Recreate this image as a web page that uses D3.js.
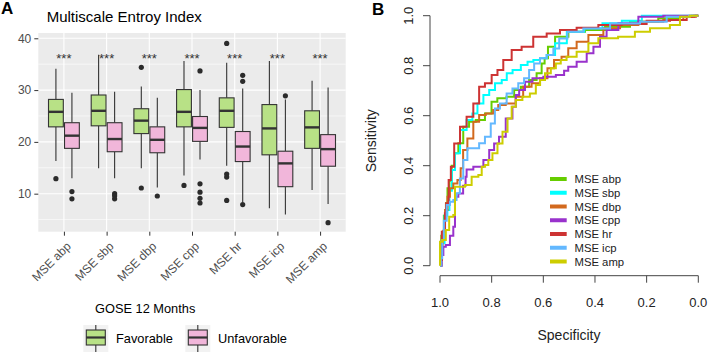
<!DOCTYPE html>
<html>
<head>
<meta charset="utf-8">
<script src="https://cdn.jsdelivr.net/npm/d3@7"></script>
<style>
  body { margin: 0; background: #fff; }
  svg { display: block; font-family: Arial, "Liberation Sans", sans-serif; }
</style>
</head>
<body>
<div id="chart"></div>
<script>
// ---- panel A data (boxplot stats: lower whisker, Q1, median, Q3, upper whisker)
const categories = ['MSE abp', 'MSE sbp', 'MSE dbp', 'MSE cpp', 'MSE hr', 'MSE icp', 'MSE amp'];
const groups = ['Favorable', 'Unfavorable'];
const favStats = [
    [16.3, 22.9, 25.8, 28.2, 34.1],
    [14.9, 23.1, 26.0, 29.05, 36.8],
    [14.9, 21.6, 24.1, 26.4, 30.7],
    [13.5, 22.9, 25.8, 30.1, 35.6],
    [15.4, 22.8, 26.0, 28.5, 35.3],
    [7.2, 17.5, 22.6, 27.2, 35.6],
    [10.7, 18.75, 22.8, 26.0, 31.8]
];
const unfStats = [
    [13.0, 18.75, 21.2, 23.7, 29.5],
    [13.0, 18.1, 20.55, 23.7, 29.7],
    [11.2, 17.9, 20.4, 22.9, 28.5],
    [16.6, 20.1, 22.7, 24.9, 30.0],
    [8.4, 16.2, 19.1, 22.0, 30.3],
    [6.0, 11.35, 15.85, 18.2, 28.2],
    [8.0, 15.3, 18.6, 21.4, 30.5]
];
const favOutliers = [[12.9], [], [34.4, 11.1], [11.6], [39.0, 13.8, 13.2, 8.7], [], []];
const unfOutliers = [[10.4, 9.0], [10.0, 9.6, 9.0], [9.55], [33.7, 11.9, 10.3, 9.1, 8.2], [32.85, 31.7, 7.9], [28.9], [4.4]];
const sigLabels = ['***', '***', '***', '***', '***', '***', '***'];
const yTicksA = [10, 20, 30, 40];

// ---- panel B data (ROC curves: [specificity, sensitivity])
const rocNames = ['MSE abp', 'MSE sbp', 'MSE dbp', 'MSE cpp', 'MSE hr', 'MSE icp', 'MSE amp'];
const rocColors = ['#66CD00', '#00FFFF', '#D2691E', '#9932CC', '#CD3333', '#63B8FF', '#CDCD00'];
const rocAbp = [[1,0],[0.99,0.12],[0.98,0.2],[0.974,0.25],[0.968,0.31],[0.959,0.34],[0.95,0.4],[0.935,0.45],[0.923,0.49],
    [0.897,0.556],[0.878,0.576],[0.845,0.583],[0.807,0.609],[0.794,0.656],[0.762,0.67],[0.723,0.676],[0.703,0.703],
    [0.671,0.716],[0.639,0.743],[0.613,0.77],[0.6,0.809],[0.59,0.83],[0.574,0.876],[0.535,0.916],[0.471,0.936],
    [0.406,0.943],[0.316,0.956],[0.213,0.976],[0.097,0.99],[0.05,0.996],[0,1]];
const rocSbp = [[1,0],[0.99,0.09],[0.975,0.2],[0.968,0.223],[0.959,0.3],[0.949,0.383],[0.935,0.45],[0.91,0.543],
    [0.884,0.583],[0.865,0.609],[0.845,0.649],[0.819,0.683],[0.8,0.703],[0.774,0.73],[0.748,0.743],[0.735,0.77],
    [0.703,0.783],[0.671,0.803],[0.651,0.816],[0.626,0.823],[0.6,0.83],[0.574,0.843],[0.535,0.89],[0.483,0.936],
    [0.4,0.95],[0.342,0.97],[0.25,0.98],[0.187,1],[0,1]];
const rocDbp = [[1,0],[0.993,0.07],[0.987,0.136],[0.974,0.223],[0.968,0.276],[0.955,0.31],[0.942,0.329],[0.923,0.343],
    [0.917,0.39],[0.904,0.463],[0.884,0.509],[0.858,0.576],[0.839,0.603],[0.807,0.609],[0.781,0.623],[0.768,0.643],
    [0.723,0.649],[0.691,0.676],[0.665,0.716],[0.626,0.73],[0.6,0.75],[0.568,0.79],[0.549,0.823],[0.51,0.836],
    [0.497,0.87],[0.445,0.896],[0.406,0.923],[0.329,0.95],[0.277,0.963],[0.187,0.976],[0.084,0.983],[0.032,0.996],[0,1]];
const rocCpp = [[1,0],[0.987,0.043],[0.987,0.076],[0.968,0.083],[0.955,0.12],[0.942,0.156],[0.942,0.276],[0.916,0.289],
    [0.905,0.32],[0.897,0.356],[0.897,0.385],[0.845,0.396],[0.819,0.423],[0.8,0.463],[0.781,0.489],[0.762,0.516],
    [0.729,0.589],[0.71,0.636],[0.703,0.683],[0.684,0.703],[0.658,0.736],[0.626,0.75],[0.574,0.756],[0.529,0.763],
    [0.51,0.78],[0.497,0.796],[0.445,0.816],[0.419,0.85],[0.393,0.876],[0.368,0.916],[0.342,0.943],[0.277,0.97],
    [0.187,0.996],[0.084,1],[0,1]];
const rocHr = [[1,0],[0.993,0.023],[0.993,0.136],[0.981,0.14],[0.981,0.21],[0.972,0.25],[0.961,0.343],[0.955,0.396],
    [0.935,0.489],[0.91,0.556],[0.884,0.596],[0.858,0.649],[0.839,0.716],[0.813,0.73],[0.787,0.763],[0.768,0.783],
    [0.742,0.823],[0.703,0.863],[0.665,0.876],[0.613,0.916],[0.561,0.929],[0.51,0.943],[0.432,0.952],[0.342,0.963],
    [0.252,0.967],[0.148,0.98],[0.071,0.983],[0.019,0.996],[0,1]];
const rocIcp = [[1,0],[0.993,0.03],[0.99,0.103],[0.98,0.18],[0.968,0.243],[0.955,0.256],[0.942,0.263],[0.93,0.29],
    [0.916,0.349],[0.904,0.423],[0.884,0.47],[0.858,0.47],[0.839,0.49],[0.813,0.516],[0.794,0.569],[0.781,0.629],
    [0.755,0.649],[0.729,0.689],[0.71,0.709],[0.684,0.73],[0.665,0.75],[0.645,0.783],[0.626,0.809],[0.6,0.83],
    [0.574,0.843],[0.548,0.869],[0.529,0.909],[0.484,0.936],[0.406,0.949],[0.277,0.969],[0.174,0.976],[0.071,0.996],[0,1]];
const rocAmp = [[1,0],[1,0.096],[0.981,0.103],[0.974,0.143],[0.955,0.196],[0.942,0.203],[0.942,0.316],[0.91,0.316],
    [0.897,0.323],[0.858,0.356],[0.845,0.363],[0.832,0.396],[0.819,0.403],[0.807,0.423],[0.787,0.45],[0.768,0.489],
    [0.748,0.536],[0.729,0.589],[0.716,0.636],[0.697,0.663],[0.665,0.676],[0.639,0.689],[0.619,0.723],[0.606,0.743],
    [0.581,0.77],[0.561,0.79],[0.542,0.809],[0.523,0.823],[0.497,0.836],[0.445,0.856],[0.406,0.89],[0.368,0.91],
    [0.253,0.916],[0.238,0.936],[0.136,0.95],[0.084,0.963],[0.058,0.996],[0.006,1],[0,1]];
const rocCurves = [rocAbp, rocSbp, rocDbp, rocCpp, rocHr, rocIcp, rocAmp];
const rocTicks = [0, 0.2, 0.4, 0.6, 0.8, 1.0];

const groupColors = {Favorable: '#B8E186', Unfavorable: '#F1B6DA'};

function drawChart() {
    const svg = d3.select('#chart').append('svg')
        .attr('width', 708)
        .attr('height', 352);

    // ================= Panel A =================
    const pA = {left: 38.3, right: 345.7, top: 33, bottom: 231.7};

    const x = d3.scalePoint()
        .domain(categories)
        .range([pA.left, pA.right])
        .padding(0.6);
    const y = d3.scaleLinear()
        .domain([2.66, 41.02])
        .range([pA.bottom, pA.top]);
    const bw = x.step() * 0.375;

    svg.append('text')
        .attr('x', 1).attr('y', 14)
        .attr('font-size', 17).attr('font-weight', 'bold')
        .text('A');
    svg.append('text')
        .attr('x', 46.7).attr('y', 21.5)
        .attr('font-size', 15)
        .text('Multiscale Entroy Index');

    const gA = svg.append('g');
    gA.append('rect')
        .attr('x', pA.left).attr('y', pA.top)
        .attr('width', pA.right - pA.left).attr('height', pA.bottom - pA.top)
        .attr('fill', '#EBEBEB');

    // minor + major grid
    gA.selectAll('.minor')
        .data([5, 15, 25, 35])
        .enter().append('line')
        .attr('x1', pA.left).attr('x2', pA.right)
        .attr('y1', d => y(d)).attr('y2', d => y(d))
        .attr('stroke', '#fff').attr('stroke-width', 0.6);
    gA.selectAll('.major')
        .data(yTicksA)
        .enter().append('line')
        .attr('x1', pA.left).attr('x2', pA.right)
        .attr('y1', d => y(d)).attr('y2', d => y(d))
        .attr('stroke', '#fff').attr('stroke-width', 1.1);
    gA.selectAll('.vgrid')
        .data(categories)
        .enter().append('line')
        .attr('x1', d => x(d)).attr('x2', d => x(d))
        .attr('y1', pA.top).attr('y2', pA.bottom)
        .attr('stroke', '#fff').attr('stroke-width', 1.1);

    // y axis
    const yAxis = svg.append('g')
        .attr('transform', `translate(${pA.left},0)`)
        .call(d3.axisLeft(y).tickValues(yTicksA).tickSize(4).tickPadding(3));
    yAxis.select('.domain').remove();
    yAxis.selectAll('line').attr('stroke', '#333');
    yAxis.selectAll('text')
        .attr('fill', '#4D4D4D')
        .style('font-size', '12px')
        .style('font-family', 'Arial, "Liberation Sans", sans-serif');

    // x axis
    const xAxis = svg.append('g')
        .attr('transform', `translate(0,${pA.bottom})`)
        .call(d3.axisBottom(x).tickSize(4).tickPadding(0));
    xAxis.select('.domain').remove();
    xAxis.selectAll('line').attr('stroke', '#333');
    xAxis.selectAll('text')
        .attr('fill', '#4D4D4D')
        .style('font-size', '12px')
        .style('font-family', 'Arial, "Liberation Sans", sans-serif')
        .attr('text-anchor', 'end')
        .attr('y', 0)
        .attr('dy', '0.75em')
        .attr('transform', 'translate(1,9) rotate(-45)');

    // boxes
    const boxData = categories.flatMap((c, i) => [
        {cat: c, grp: 'Favorable', s: favStats[i], out: favOutliers[i], off: -bw / 2},
        {cat: c, grp: 'Unfavorable', s: unfStats[i], out: unfOutliers[i], off: bw / 2}
    ]);

    const boxes = gA.selectAll('.box')
        .data(boxData)
        .enter().append('g')
        .attr('class', 'box')
        .attr('transform', d => `translate(${x(d.cat) + d.off},0)`);

    boxes.append('line')
        .attr('x1', 0).attr('x2', 0)
        .attr('y1', d => y(d.s[0])).attr('y2', d => y(d.s[1]))
        .attr('stroke', '#333').attr('stroke-width', 1.1);
    boxes.append('line')
        .attr('x1', 0).attr('x2', 0)
        .attr('y1', d => y(d.s[3])).attr('y2', d => y(d.s[4]))
        .attr('stroke', '#333').attr('stroke-width', 1.1);
    boxes.append('rect')
        .attr('x', -bw / 2 + 0.6)
        .attr('width', bw - 1.2)
        .attr('y', d => y(d.s[3]))
        .attr('height', d => y(d.s[1]) - y(d.s[3]))
        .attr('fill', d => groupColors[d.grp])
        .attr('stroke', '#333').attr('stroke-width', 1.1);
    boxes.append('line')
        .attr('x1', -bw / 2 + 0.6).attr('x2', bw / 2 - 0.6)
        .attr('y1', d => y(d.s[2])).attr('y2', d => y(d.s[2]))
        .attr('stroke', '#333').attr('stroke-width', 2.4);
    boxes.selectAll('circle')
        .data(d => d.out)
        .enter().append('circle')
        .attr('cx', 0)
        .attr('cy', d => y(d))
        .attr('r', 2.6)
        .attr('fill', '#2b2b2b');

    // significance stars
    gA.selectAll('.sig')
        .data(categories)
        .enter().append('text')
        .attr('x', d => x(d))
        .attr('y', y(35.3))
        .attr('text-anchor', 'middle')
        .attr('font-size', 13)
        .attr('fill', '#333')
        .text((d, i) => sigLabels[i]);

    // legend A
    svg.append('text')
        .attr('x', 95).attr('y', 312.7)
        .attr('font-size', 12.8)
        .text('GOSE 12 Months');
    const legA = svg.selectAll('.legA')
        .data(groups)
        .enter().append('g')
        .attr('transform', (d, i) => `translate(${i === 0 ? 83.3 : 185.3},325)`);
    legA.append('rect')
        .attr('width', 25).attr('height', 27)
        .attr('fill', '#F2F2F2');
    legA.append('line')
        .attr('x1', 12.5).attr('x2', 12.5).attr('y1', 0).attr('y2', 27)
        .attr('stroke', '#333').attr('stroke-width', 1.1);
    legA.append('rect')
        .attr('x', 3).attr('y', 5).attr('width', 19).attr('height', 15)
        .attr('fill', d => groupColors[d])
        .attr('stroke', '#333').attr('stroke-width', 1.1);
    legA.append('line')
        .attr('x1', 3).attr('x2', 22).attr('y1', 12.5).attr('y2', 12.5)
        .attr('stroke', '#333').attr('stroke-width', 2.2);
    legA.append('text')
        .attr('x', 32.7).attr('y', 17.5)
        .attr('font-size', 12.8)
        .text(d => d);

    // ================= Panel B =================
    const xB = d3.scaleLinear().domain([1, 0]).range([440, 698.3]);
    const yB = d3.scaleLinear().domain([0, 1]).range([265.7, 15.7]);
    const axisX = 430, axisY = 275.7;

    svg.append('text')
        .attr('x', 372).attr('y', 15)
        .attr('font-size', 17).attr('font-weight', 'bold')
        .text('B');

    const gB = svg.append('g');

    // y axis (base-R style)
    gB.append('line')
        .attr('x1', axisX).attr('x2', axisX)
        .attr('y1', yB(0)).attr('y2', yB(1))
        .attr('stroke', '#444').attr('stroke-width', 1);
    gB.selectAll('.ytickB')
        .data(rocTicks)
        .enter().append('line')
        .attr('x1', axisX - 7).attr('x2', axisX)
        .attr('y1', d => yB(d)).attr('y2', d => yB(d))
        .attr('stroke', '#444');
    gB.selectAll('.ylabB')
        .data(rocTicks)
        .enter().append('text')
        .attr('transform', d => `translate(413,${yB(d)}) rotate(-90)`)
        .attr('text-anchor', 'middle')
        .attr('font-size', 13)
        .attr('fill', '#222')
        .text(d => d.toFixed(1));
    gB.append('text')
        .attr('transform', `translate(376,${(yB(0) + yB(1)) / 2}) rotate(-90)`)
        .attr('text-anchor', 'middle')
        .attr('font-size', 14)
        .attr('fill', '#222')
        .text('Sensitivity');

    // x axis
    gB.append('line')
        .attr('x1', xB(1)).attr('x2', xB(0))
        .attr('y1', axisY).attr('y2', axisY)
        .attr('stroke', '#444');
    gB.selectAll('.xtickB')
        .data(rocTicks)
        .enter().append('line')
        .attr('x1', d => xB(d)).attr('x2', d => xB(d))
        .attr('y1', axisY).attr('y2', axisY + 7)
        .attr('stroke', '#444');
    gB.selectAll('.xlabB')
        .data(rocTicks)
        .enter().append('text')
        .attr('x', d => xB(d))
        .attr('y', 306.7)
        .attr('text-anchor', 'middle')
        .attr('font-size', 13)
        .attr('fill', '#222')
        .text(d => d.toFixed(1));
    gB.append('text')
        .attr('x', 569).attr('y', 339.5)
        .attr('text-anchor', 'middle')
        .attr('font-size', 14)
        .attr('fill', '#222')
        .text('Specificity');

    // ROC curves
    const line = d3.line()
        .x(d => xB(d[0]))
        .y(d => yB(d[1]))
        .curve(d3.curveStep);
    gB.selectAll('.roc')
        .data(rocCurves)
        .enter().append('path')
        .attr('d', line)
        .attr('fill', 'none')
        .attr('stroke', (d, i) => rocColors[i])
        .attr('stroke-width', 2);

    // legend B
    const legB = gB.selectAll('.legB')
        .data(rocNames)
        .enter().append('g')
        .attr('transform', (d, i) => `translate(550,${179 + i * 13.75})`);
    legB.append('line')
        .attr('x1', 0).attr('x2', 16.7)
        .attr('stroke', (d, i) => rocColors[i])
        .attr('stroke-width', 4);
    legB.append('text')
        .attr('x', 24.5).attr('y', 4)
        .attr('font-size', 11.3)
        .attr('fill', '#222')
        .text(d => d);
}

drawChart();
</script>
</body>
</html>
